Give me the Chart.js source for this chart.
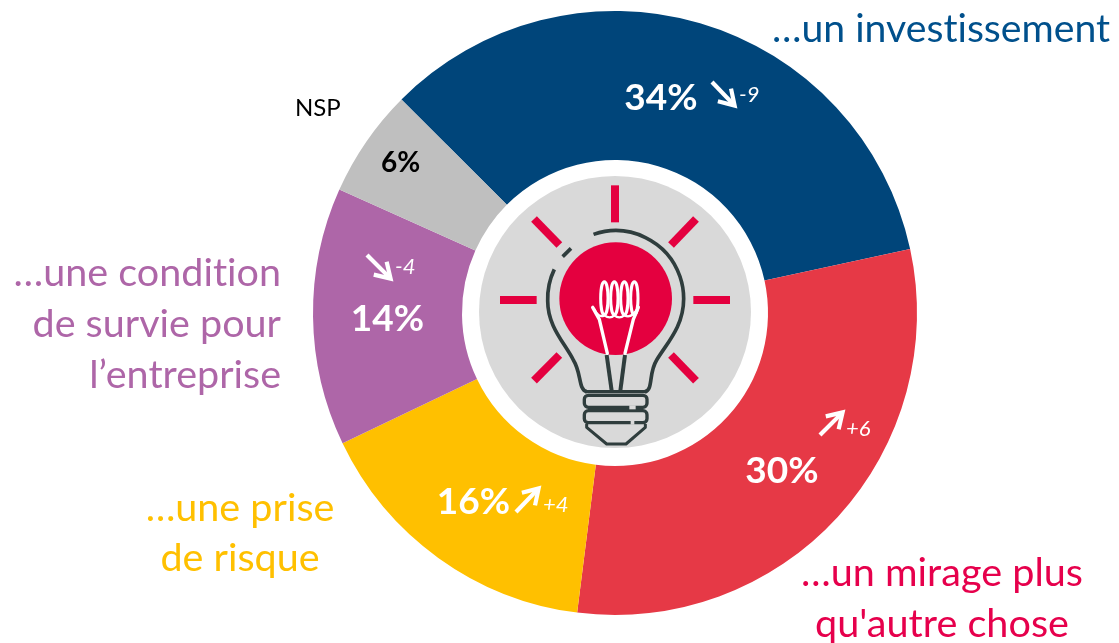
<!DOCTYPE html>
<html><head><meta charset="utf-8">
<style>html,body{margin:0;padding:0;background:#fff}#w{position:relative;width:1119px;height:643px}canvas{display:block}</style>
<script src="https://cdn.jsdelivr.net/npm/chart.js@4"></script>
</head><body><div id="w"><canvas id="c" width="1119" height="643"></canvas></div>
<script>
const categories = ["…un investissement", "…un mirage plus qu'autre chose", "…une prise de risque", "…une condition de survie pour l’entreprise", "NSP"];
const values = [34.1, 30.4, 15.9, 13.8, 5.8];
const deltas = [-9, 6, 4, -4, null];
const sliceColors = ["#00457A", "#E63946", "#FFC000", "#AE66A8", "#BFBFBF"];

const FONT = "Lato, Carlito, sans-serif";
// Layout of annotations (not data)
const valuePos = [[661,110],[782,483],[473.5,514],[387.5,331],[400.5,172]];
const arrowPos = [[712,82,736,107],[820,435,844,411],[516,512,540,487],[367,255,392,280],null];
const deltaPos = [[739,102],[846,436],[543,512],[395,274],null];
const labelBlocks = [
  {lines:["…un investissement"],align:"left",x:772,ys:[42],color:"#00508C",size:39.2},
  {lines:["…un mirage plus","qu'autre chose"],align:"center",x:942,ys:[586,637],color:"#E6004C",size:39.6},
  {lines:["…une prise","de risque"],align:"center",x:240,ys:[521,571],color:"#FFC000",size:39.5},
  {lines:["…une condition","de survie pour","l’entreprise"],align:"right",x:281,ys:[286,337,388],color:"#AE66A8",size:39.5},
  {lines:["NSP"],align:"left",x:295,ys:[116],color:"#000000",size:24}
];

const annotations = {
  id:"annotations",
  afterDatasetsDraw(chart){
    const ctx = chart.ctx, a = chart.getDatasetMeta(0).data[0];
    const cx = a.x, cy = a.y;
    ctx.save();
    // grey disc
    ctx.fillStyle="#D9D9D9"; ctx.beginPath(); ctx.arc(cx,cy-1,136,0,Math.PI*2); ctx.fill();
    drawBulb(ctx,cx,cy-1);
    // labels
    ctx.textBaseline="alphabetic";
    ctx.letterSpacing="0.01px";
    labelBlocks.forEach(b=>{
      ctx.font=`${b.size}px ${FONT}`; ctx.fillStyle=b.color; ctx.textAlign=b.align;
      b.lines.forEach((l,i)=>ctx.fillText(l,b.x,b.ys[i]));
    });
    // values
    ctx.textAlign="center";
    values.forEach((v,i)=>{
      ctx.font=`bold ${i===4?28:37}px ${FONT}`;
      ctx.fillStyle=i===4?"#000":"#fff";
      ctx.fillText(Math.round(v)+"%",valuePos[i][0],valuePos[i][1]);
    });
    // deltas + arrows
    ctx.textAlign="left";
    deltas.forEach((d,i)=>{
      if(d===null) return;
      ctx.font=`italic 22px ${FONT}`; ctx.fillStyle="#fff";
      ctx.fillText((d>0?"+":"-")+Math.abs(d),deltaPos[i][0],deltaPos[i][1]);
      arrow(ctx,...arrowPos[i]);
    });
    ctx.restore();
  }
};
function arrow(ctx,x0,y0,x1,y1){
  const ang=Math.atan2(y1-y0,x1-x0), L=19;
  ctx.strokeStyle="#fff"; ctx.lineWidth=4.2; ctx.lineCap="butt"; ctx.lineJoin="miter";
  ctx.beginPath(); ctx.moveTo(x0,y0); ctx.lineTo(x1-3*Math.cos(ang),y1-3*Math.sin(ang)); ctx.stroke();
  ctx.beginPath();
  ctx.moveTo(x1-L*Math.cos(ang-0.5),y1-L*Math.sin(ang-0.5));
  ctx.lineTo(x1-2*Math.cos(ang),y1-2*Math.sin(ang));
  ctx.lineTo(x1-L*Math.cos(ang+0.5),y1-L*Math.sin(ang+0.5));
  ctx.stroke();
}
function drawBulb(ctx,cx,cy){
  ctx.save();
  ctx.translate(cx,cy); ctx.scale(1/3,1/3); ctx.translate(-435,-426);
  const pink="#E4003F", dark="#2F3D3D";
  // rays
  ctx.strokeStyle=pink; ctx.lineWidth=24; ctx.lineCap="butt";
  [[435,46,435,157],[192,147,268,225],[678,147,603,225],[90,390,200,390],[670,390,780,390],[268,555,192,632],[603,555,678,632]].forEach(r=>{
    ctx.beginPath(); ctx.moveTo(r[0],r[1]); ctx.lineTo(r[2],r[3]); ctx.stroke();
  });
  // glow
  ctx.fillStyle=pink; ctx.beginPath(); ctx.arc(437,386,169,0,Math.PI*2); ctx.fill();
  // filament stems (dark)
  ctx.strokeStyle=dark; ctx.lineWidth=12;
  [[410,555,425,662],[465,555,451,662]].forEach(r=>{ctx.beginPath();ctx.moveTo(r[0],r[1]);ctx.lineTo(r[2],r[3]);ctx.stroke();});
  // white filament
  ctx.strokeStyle="#fff"; ctx.lineWidth=10; ctx.lineCap="round"; ctx.lineJoin="round";
  ctx.beginPath(); ctx.moveTo(368,412); ctx.lineTo(388,448); ctx.lineTo(412,550); ctx.stroke();
  ctx.beginPath(); ctx.moveTo(505,412); ctx.lineTo(490,448); ctx.lineTo(465,550); ctx.stroke();
  ctx.lineWidth=9;
  [403,433,463,493].forEach(x=>{ctx.beginPath();ctx.ellipse(x,385,11,50,0,0,Math.PI*2);ctx.stroke();});
  ctx.lineWidth=7;
  ctx.beginPath(); ctx.moveTo(372,416);
  ctx.quadraticCurveTo(385,445,403,436); ctx.quadraticCurveTo(420,448,433,436); ctx.quadraticCurveTo(448,448,463,436); ctx.quadraticCurveTo(485,448,505,412); ctx.stroke();
  // outline
  ctx.strokeStyle=dark; ctx.lineWidth=11; ctx.lineCap="butt"; ctx.lineJoin="round";
  const R=204, d=Math.PI/180;
  ctx.beginPath(); ctx.arc(437,386,R,-109*d,0);
  ctx.bezierCurveTo(641,470,590,520,560,570);
  ctx.bezierCurveTo(535,610,550,660,525,665);
  ctx.stroke();
  ctx.beginPath(); ctx.arc(437,386,R,205.5*d,178*d,true);
  ctx.bezierCurveTo(233,470,285,520,310,570);
  ctx.bezierCurveTo(335,610,325,660,350,665);
  ctx.stroke();
  ctx.beginPath(); ctx.moveTo(278,260); ctx.lineTo(303,235); ctx.stroke();
  // base
  ctx.lineWidth=10;
  ctx.beginPath(); ctx.moveTo(345,665); ctx.lineTo(530,665); ctx.stroke();
  ctx.beginPath(); ctx.roundRect(343,676,188,36,12); ctx.stroke();
  ctx.beginPath(); ctx.roundRect(343,722,188,36,12); ctx.stroke();
  ctx.strokeStyle="#D9D9D9"; ctx.lineWidth=12;
  ctx.beginPath(); ctx.moveTo(478,712); ctx.lineTo(497,712); ctx.stroke();
  ctx.beginPath(); ctx.moveTo(482,758); ctx.lineTo(493,758); ctx.stroke();
  ctx.strokeStyle=dark; ctx.lineWidth=9;
  ctx.beginPath(); ctx.moveTo(350,762); ctx.lineTo(350,772); ctx.lineTo(410,822); ctx.lineTo(468,822); ctx.lineTo(526,772); ctx.lineTo(526,762); ctx.stroke();
  ctx.restore();
}
new Chart(document.getElementById("c"),{
  type:"doughnut",
  data:{labels:categories,datasets:[{data:values,backgroundColor:sliceColors,borderWidth:0,hoverOffset:0}]},
  options:{
    responsive:false,animation:false,
    rotation:-45,cutout:153,
    layout:{padding:{left:313,right:202,top:11,bottom:28}},
    plugins:{legend:{display:false},tooltip:{enabled:false}}
  },
  plugins:[annotations]
});
</script></body></html>
